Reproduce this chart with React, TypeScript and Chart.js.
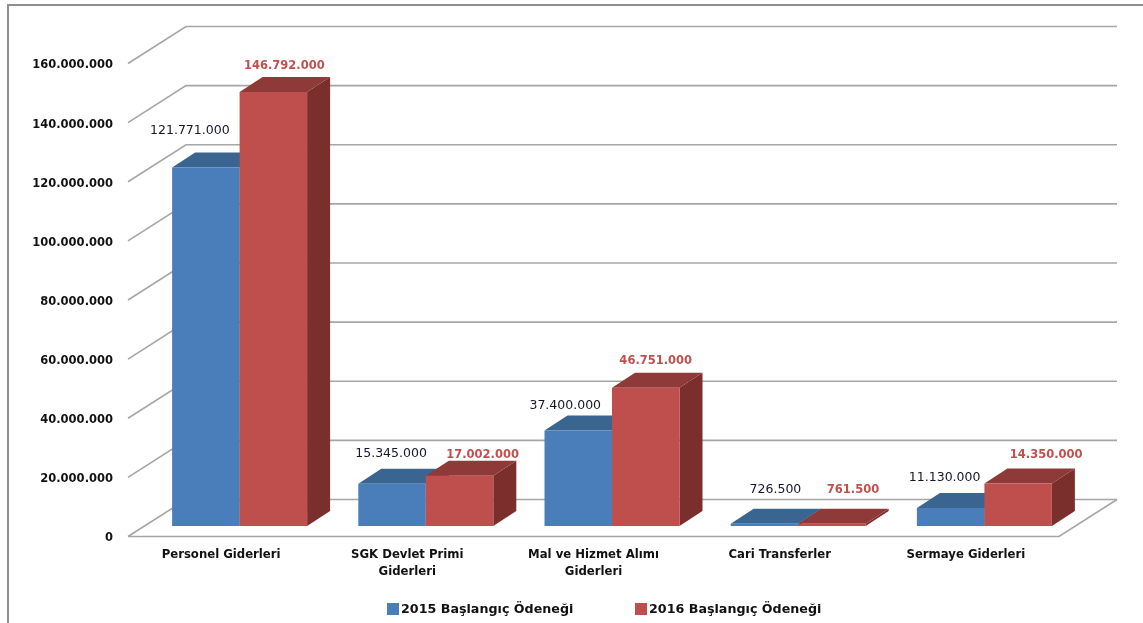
import React, { useEffect, useRef } from "react";
import { Chart, registerables } from "chart.js";

Chart.register(...registerables);

const categories = [
  "Personel Giderleri",
  ["SGK Devlet Primi", "Giderleri"],
  ["Mal ve Hizmet Alımı", "Giderleri"],
  "Cari Transferler",
  "Sermaye Giderleri",
];
// Bar heights as read from the picture against the axis. Some 2015 bars in the
// source are drawn lower than their printed labels, so heights and printed
// labels are kept as separate lists.
const series2015 = [121300000, 14250000, 32300000, 726500, 6100000];
const series2016 = [146792000, 17002000, 46751000, 761500, 14350000];
const printed2015 = ["121.771.000", "15.345.000", "37.400.000", "726.500", "11.130.000"];
const printed2016 = ["146.792.000", "17.002.000", "46.751.000", "761.500", "14.350.000"];
const series2015Name = "2015 Başlangıç Ödeneği";
const series2016Name = "2016 Başlangıç Ödeneği";

// label placement relative to the front-top centre of each bar
const nudge2015 = [[-16, -36.4], [-1, -30], [-13, -25], [11, -34], [-6, -30]];
const nudge2016 = [[11, -26], [23, -21], [10, -27], [21, -34], [28, -29]];
const legendBoxX = [387, 635];

const FONT = '"DejaVu Sans"';
const WALL = { x: 58, y: -37 };
const PLANE = { x: 18.5, y: -10.5 };
const BAR = { x: 23, y: -15 };
const COLORS = [
  { front: "#4A7EBB", top: "#3A6591", side: "#35597F", label: "#15152b", weight: "normal", size: 12.5 },
  { front: "#BF4F4C", top: "#8E3A38", side: "#7A2F2D", label: "#C0504D", weight: "bold", size: 11.5 },
];

const fmt = (v: number) => String(v).replace(/\B(?=(\d{3})+(?!\d))/g, ".");

const frame3d = {
  id: "frame3d",
  beforeDraw(chart: any) {
    const { ctx, width, height } = chart;
    ctx.save();
    ctx.fillStyle = "#fff";
    ctx.fillRect(0, 0, width, height);
    ctx.strokeStyle = "#8f8f8f";
    ctx.lineWidth = 2;
    ctx.beginPath();
    ctx.moveTo(8, height);
    ctx.lineTo(8, 5);
    ctx.lineTo(width, 5);
    ctx.stroke();
    ctx.restore();
  },
  beforeDatasetsDraw(chart: any) {
    const { ctx, chartArea } = chart;
    const y = chart.scales.y;
    ctx.save();
    ctx.strokeStyle = "#a6a6a6";
    ctx.lineWidth = 1.6;
    y.ticks.forEach((t: any) => {
      const py = y.getPixelForValue(t.value);
      ctx.beginPath();
      ctx.moveTo(chartArea.left, py);
      ctx.lineTo(chartArea.left + WALL.x, py + WALL.y);
      ctx.lineTo(chartArea.right + WALL.x, py + WALL.y);
      ctx.stroke();
    });
    const p0 = y.getPixelForValue(0);
    ctx.beginPath();
    ctx.moveTo(chartArea.left, p0);
    ctx.lineTo(chartArea.right, p0);
    ctx.lineTo(chartArea.right + WALL.x, p0 + WALL.y);
    ctx.stroke();
    ctx.restore();
  },
  beforeDatasetDraw() {
    return false;
  },
  afterDatasetsDraw(chart: any) {
    const { ctx } = chart;
    [0, 1].forEach((di) => {
      const c = COLORS[di];
      chart.getDatasetMeta(di).data.forEach((el: any) => {
        const hw = el.width / 2;
        const l = el.x - hw, r = el.x + hw;
        ctx.save();
        ctx.translate(PLANE.x, PLANE.y);
        ctx.fillStyle = c.side;
        ctx.beginPath();
        ctx.moveTo(r, el.y);
        ctx.lineTo(r + BAR.x, el.y + BAR.y);
        ctx.lineTo(r + BAR.x, el.base + BAR.y);
        ctx.lineTo(r, el.base);
        ctx.closePath();
        ctx.fill();
        ctx.fillStyle = c.top;
        ctx.beginPath();
        ctx.moveTo(l, el.y);
        ctx.lineTo(l + BAR.x, el.y + BAR.y);
        ctx.lineTo(r + BAR.x, el.y + BAR.y);
        ctx.lineTo(r, el.y);
        ctx.closePath();
        ctx.fill();
        el.draw(ctx);
        ctx.restore();
      });
    });
    [0, 1].forEach((di) => {
      const c = COLORS[di];
      const nudges = di === 0 ? nudge2015 : nudge2016;
      const printed = di === 0 ? printed2015 : printed2016;
      chart.getDatasetMeta(di).data.forEach((el: any, i: number) => {
        ctx.save();
        ctx.font = `${c.weight} ${c.size}px ${FONT}`;
        ctx.fillStyle = c.label;
        ctx.textAlign = "center";
        ctx.textBaseline = "middle";
        ctx.fillText(
          printed[i],
          el.x + PLANE.x + nudges[i][0],
          el.y + PLANE.y + nudges[i][1]
        );
        ctx.restore();
      });
    });
    // legend
    chart.data.datasets.forEach((ds: any, i: number) => {
      ctx.save();
      ctx.fillStyle = ds.backgroundColor;
      ctx.fillRect(legendBoxX[i], 603, 12, 12);
      ctx.fillStyle = "#111";
      ctx.font = `bold 12.7px ${FONT}`;
      ctx.textAlign = "left";
      ctx.textBaseline = "middle";
      ctx.fillText(ds.label, legendBoxX[i] + 14, 609.5);
      ctx.restore();
    });
  },
};

export default function App() {
  const ref = useRef<HTMLCanvasElement | null>(null);
  useEffect(() => {
    const chart = new Chart(ref.current as HTMLCanvasElement, {
      type: "bar",
      data: {
        labels: categories as any,
        datasets: [
          { label: series2015Name, data: series2015, backgroundColor: COLORS[0].front, borderWidth: 0 },
          { label: series2016Name, data: series2016, backgroundColor: COLORS[1].front, borderWidth: 0 },
        ],
      },
      options: {
        responsive: false,
        animation: false,
        devicePixelRatio: 1,
        layout: { padding: { top: 63.5, right: 84, left: 0, bottom: 0 } },
        datasets: { bar: { barPercentage: 1, categoryPercentage: 0.725 } },
        scales: {
          x: {
            grid: { display: false },
            border: { display: false },
            ticks: {
              color: "#111",
              font: { family: FONT, weight: "bold", size: 11.7, lineHeight: 1.45 },
              padding: 2,
              maxRotation: 0,
              autoSkip: false,
            },
            afterFit(s: any) {
              s.height = 86.5;
            },
          },
          y: {
            min: 0,
            max: 160000000,
            grid: { display: false },
            border: { display: false },
            ticks: {
              stepSize: 20000000,
              color: "#111",
              padding: 7,
              labelOffset: 2,
              font: { family: FONT, weight: "bold", size: 11.5 },
              callback: (v: any) => fmt(v),
            },
            afterFit(s: any) {
              s.width = 128;
            },
          },
        },
        plugins: {
          tooltip: { enabled: false },
          legend: { display: false },
        },
      } as any,
      plugins: [frame3d as any],
    });
    return () => chart.destroy();
  }, []);
  return (
    <div style={{ position: "fixed", left: 0, top: 0, width: 1143, height: 623, background: "#fff" }}>
      <canvas ref={ref} width={1143} height={623} style={{ display: "block" }} />
    </div>
  );
}
